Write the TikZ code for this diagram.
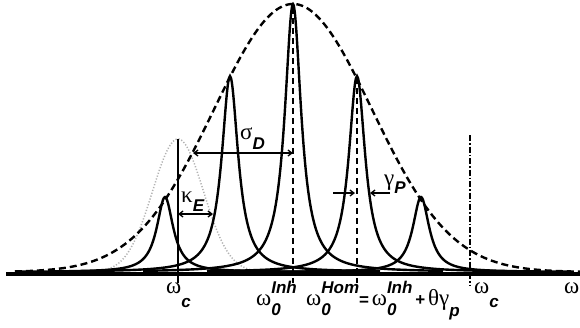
\documentclass[tikz,border=0pt]{standalone}
\usepackage{fontspec}
\setmainfont{Liberation Sans}
\newfontfamily\gkfont{Liberation Serif}
\usetikzlibrary{arrows.meta}
\newcommand\bi[1]{{\bfseries\itshape #1}}
\newcommand\gk[1]{{\gkfont\fontsize{23bp}{26bp}\selectfont #1}}
\newsavebox\mysupbox
\newsavebox\mysubbox
\newcommand\supsub[2]{\sbox\mysupbox{\bi{#1}}\sbox\mysubbox{\bi{#2}}%
  \rlap{\raisebox{0.66em}{\usebox\mysupbox}}\rlap{\raisebox{-0.62em}{\usebox\mysubbox}}%
  \hspace{\ifdim\wd\mysupbox>\wd\mysubbox \wd\mysupbox\else\wd\mysubbox\fi}}
\newcommand\lowsub[2]{\raisebox{-#1}{\bi{#2}}}
\begin{document}
\begin{tikzpicture}[x=1bp,y=-1bp,
  declare function={lor(\x,\c,\h)=\h/(1+((\x-\c)/10)^2);
                    gau(\x)=268*exp(-0.5*((\x-293)/79)^2);
                    dgau(\x)=133*exp(-0.5*((\x-178)/25.5)^2);},
  lab/.style={inner sep=0pt,anchor=base west,font=\fontsize{17bp}{20bp}\selectfont},
  lorcurve/.style={line width=2.4bp,line join=miter,smooth},
  vdash/.style={line width=1.6bp,dash pattern=on 6bp off 4bp},
  meas/.style={line width=1.3bp,{Straight Barb[length=4bp,width=6bp]}-{Straight Barb[length=4bp,width=6bp]}},
  measone/.style={line width=1.3bp,-{Straight Barb[length=4bp,width=6bp]}}]
\useasboundingbox (0,0) rectangle (580,327);

% axis
\coordinate (axL) at (6,273.5);
\coordinate (axR) at (580,273.5);
\draw[line width=4bp] (axL) -- (axR);

% dotted gaussian (kappa_E)
\draw[gray!60,line width=1.5bp,dash pattern=on 1.2bp off 1.8bp,smooth,samples=160,domain=105:255]
  plot (\x,{272-dgau(\x)});

% Lorentzian lines
\foreach \c/\h in {165/75,230/196,293/268,357/196,421/75}{
  \draw[lorcurve,samples=301,domain={max(8,\c-150)}:{min(580,\c+150)}]
    plot (\x,{272-lor(\x,\c,\h)});
}

% dashed inhomogeneous gaussian
\draw[line width=2.4bp,dash pattern=on 7bp off 4bp,smooth,samples=200,domain=15:580]
  plot (\x,{272-gau(\x)});

% vertical markers
\coordinate (wcLtop) at (178,139);
\coordinate (wcLbot) at (178,283);
\draw[line width=2bp] (wcLtop) -- (wcLbot);
\coordinate (w0top) at (293,8);
\coordinate (w0bot) at (293,283);
\draw[vdash] (w0top) -- (w0bot);
\coordinate (whtop) at (357,78);
\coordinate (whbot) at (357,283);
\draw[vdash] (whtop) -- (whbot);
\coordinate (wcRtop) at (470,135);
\coordinate (wcRbot) at (470,286);
\draw[line width=2bp,dash pattern=on 6bp off 2bp on 1.5bp off 2bp] (wcRtop) -- (wcRbot);

% sigma_D
\coordinate (sdL) at (193,153);
\coordinate (sdR) at (293,153);
\draw[meas] (sdL) -- (sdR);
\node[lab] (sigD) at (240,139) {\gk{σ}\lowsub{0.62em}{D}};

% kappa_E
\coordinate (keL) at (178,214);
\coordinate (keR) at (213,214);
\draw[meas] (keL) -- (keR);
\node[lab] (kapE) at (181,202) {\gk{κ}\lowsub{0.58em}{E}};

% gamma_P
\coordinate (gpLs) at (333,193);
\coordinate (gpLe) at (355,193);
\coordinate (gpRs) at (390,193);
\coordinate (gpRe) at (370,193);
\draw[measone] (gpLs) -- (gpLe);
\draw[measone] (gpRs) -- (gpRe);
\node[lab] (gamP) at (384,185) {\gk{γ}\lowsub{0.5em}{P}};

% axis labels
\node[lab] (lwcL) at (166,293) {\gk{ω}\lowsub{0.85em}{c}};
\node[lab] (lw0) at (256,305) {\gk{ω}\supsub{Inh}{0}};
\node[lab] (lwh) at (306,305) {\gk{ω}\supsub{Hom}{0}\textbf{=}\,\gk{ω}\supsub{Inh}{0}\,\textbf{+}\,\gk{θγ}\lowsub{0.68em}{p}};
\node[lab] (lwcR) at (474,293) {\gk{ω}\lowsub{0.85em}{c}};
\node[lab] (lw) at (564,293) {\gk{ω}};
\end{tikzpicture}
\end{document}
